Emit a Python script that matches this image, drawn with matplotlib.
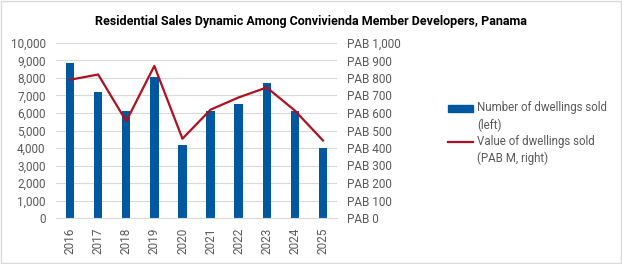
import matplotlib.pyplot as plt
from matplotlib.lines import Line2D
import numpy as np

plt.rcParams['font.family'] = ['Roboto', 'DejaVu Sans']

years = ['2016', '2017', '2018', '2019', '2020', '2021', '2022', '2023', '2024', '2025']
units_sold = [8830, 7180, 6140, 8030, 4150, 6100, 6500, 7690, 6100, 4020]
value_sold = [790, 820, 553, 869, 453, 619, 689, 746, 614, 443]

blue = '#0058A0'
red = '#B0101E'
grey = '#595959'

fig = plt.figure(figsize=(6.22, 2.64), dpi=100)
ax = fig.add_axes([56 / 622, 1 - 218 / 264, 281 / 622, 175 / 264])
ax2 = ax.twinx()

x = np.arange(len(years))
ax.bar(x, units_sold, width=0.3, color=blue, zorder=2)
ax2.plot(x, value_sold, color=red, lw=1.6, zorder=3)

ax.set_xlim(-0.5, len(years) - 0.5)
ax.set_ylim(0, 10000)
ax2.set_ylim(0, 1000)
ax.set_yticks(np.arange(0, 10001, 1000))
ax.set_yticklabels([f'{v:,}' for v in range(0, 10001, 1000)])
ax2.set_yticks(np.arange(0, 1001, 100))
ax2.set_yticklabels([f'PAB {v:,}' for v in range(0, 1001, 100)])
ax.set_xticks(x)
ax.set_xticklabels(years, rotation=90)

ax.grid(axis='y', color='#D9D9D9', lw=0.8, zorder=0)
ax.set_axisbelow(True)
for a in (ax, ax2):
    for s in a.spines.values():
        s.set_visible(False)
    a.tick_params(length=0, labelsize=8.5, colors=grey, pad=7.5)
ax.tick_params(axis='x', pad=7)
ax.spines['bottom'].set_visible(True)
ax.spines['bottom'].set_color('#D9D9D9')

fig.suptitle('Residential Sales Dynamic Among Convivienda Member Developers, Panama',
             x=0.5, y=0.945, fontsize=9, fontweight='bold', color='black')

# legend, drawn by hand so the keys sit on the first text line
def fx(px):
    return px / 622

def fy(py):
    return 1 - py / 264

fig.patches.append(plt.Rectangle((fx(448), fy(111.5)), fx(25), 7 / 264, transform=fig.transFigure,
                                 color=blue))
fig.add_artist(Line2D([fx(448), fx(473)], [fy(141.5), fy(141.5)], color=red, lw=1.6,
                      transform=fig.transFigure))
fig.text(fx(477), fy(101), 'Number of dwellings sold\n(left)', fontsize=8.3, color=grey,
         va='top', ha='left', linespacing=1.4)
fig.text(fx(477), fy(134.5), 'Value of dwellings sold\n(PAB M, right)', fontsize=8.3, color=grey,
         va='top', ha='left', linespacing=1.4)

fig.patches.append(plt.Rectangle((0.002, 0.004), 0.996, 0.992, transform=fig.transFigure,
                                 fill=False, edgecolor='#D9D9D9', lw=1))

fig.savefig('out.png', dpi=100)
